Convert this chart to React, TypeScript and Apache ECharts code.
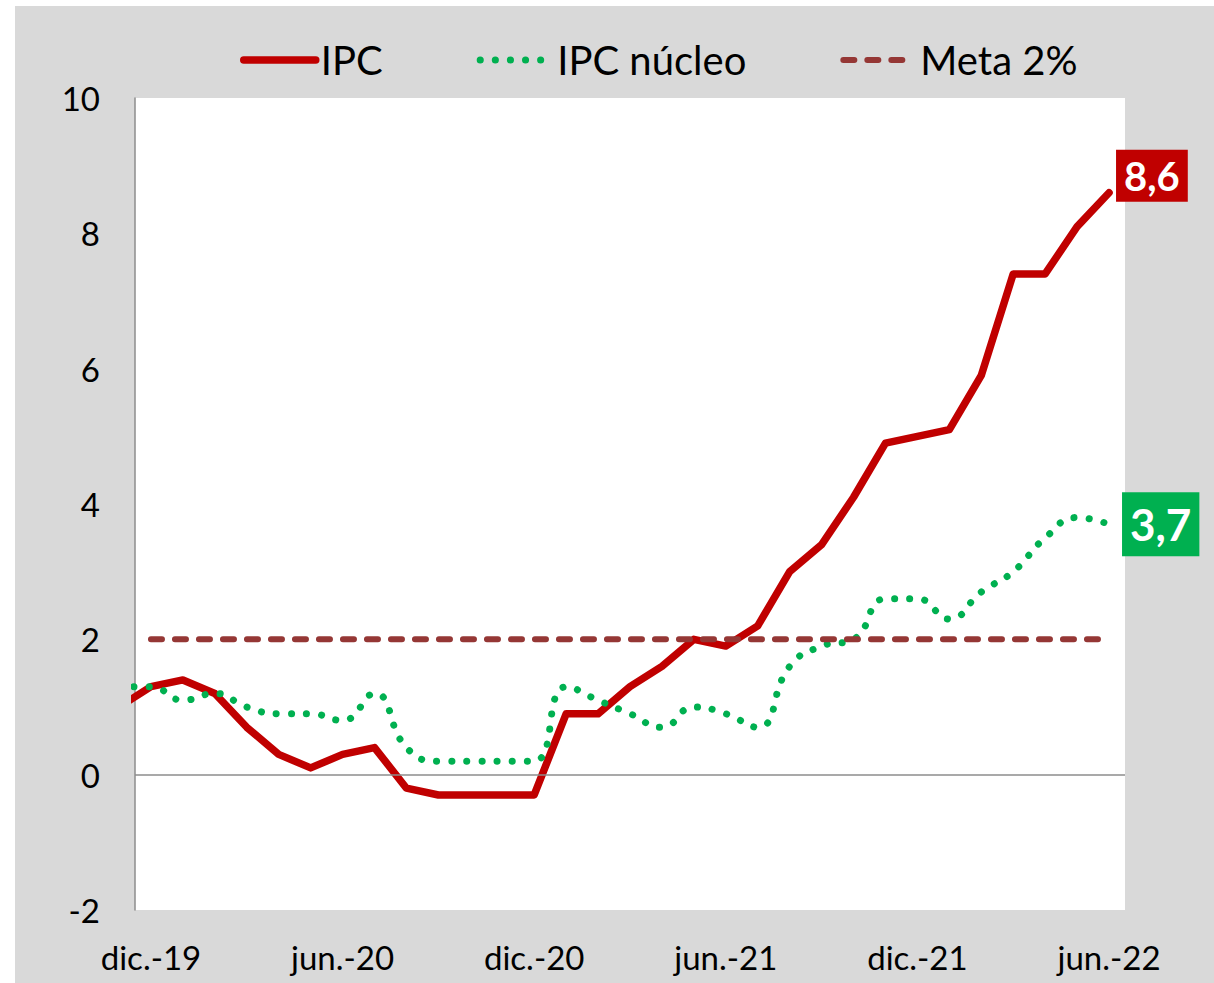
import React, { useEffect, useRef } from "react";
import * as echarts from "echarts";

const categories = [
  "dic.-19", "ene.-20", "feb.-20", "mar.-20", "abr.-20", "may.-20", "jun.-20",
  "jul.-20", "ago.-20", "sep.-20", "oct.-20", "nov.-20", "dic.-20",
  "ene.-21", "feb.-21", "mar.-21", "abr.-21", "may.-21", "jun.-21",
  "jul.-21", "ago.-21", "sep.-21", "oct.-21", "nov.-21", "dic.-21",
  "ene.-22", "feb.-22", "mar.-22", "abr.-22", "may.-22", "jun.-22",
];

// value for nov.-19 (drawn just before the first category, clipped by the plot)
const ipcPrev = 1.0;
const corePrev = 1.3;

const ipc = [
  1.3, 1.4, 1.2, 0.7, 0.3, 0.1, 0.3, 0.4, -0.2, -0.3, -0.3, -0.3, -0.3,
  0.9, 0.9, 1.3, 1.6, 2.0, 1.9, 2.2, 3.0, 3.4, 4.1, 4.9, 5.0,
  5.1, 5.9, 7.4, 7.4, 8.1, 8.6,
];

const core = [
  1.3, 1.1, 1.2, 1.0, 0.9, 0.9, 0.8, 1.2, 0.4, 0.2, 0.2, 0.2, 0.2,
  1.3, 1.1, 0.9, 0.7, 1.0, 0.9, 0.7, 1.6, 1.9, 2.0, 2.6, 2.6,
  2.3, 2.7, 3.0, 3.5, 3.8, 3.7,
];

const meta = [
  2, 2, 2, 2, 2, 2, 2, 2, 2, 2, 2, 2, 2,
  2, 2, 2, 2, 2, 2, 2, 2, 2, 2, 2, 2,
  2, 2, 2, 2, 2, 2,
];

const yTicks = { min: -2, max: 10, interval: 2 };

const FONT = "Lato, 'Noto Sans', sans-serif";
const RED = "#C00000";
const GREEN = "#00B050";
const META = "#953735";

const redLine = { color: RED, width: 7.5, cap: "round", join: "round" };
const greenLine = { color: GREEN, width: 7, type: [0.1, 15], cap: "round" };
const metaLine = { color: META, width: 6, type: [11, 13], cap: "round" };

function fmt(p: any) {
  const v = Array.isArray(p.value) ? p.value[1] : p.value;
  return String(v).replace(".", ",");
}

export default function App() {
  const ref = useRef<HTMLDivElement>(null);

  useEffect(() => {
    if (!ref.current) return;
    const chart = echarts.init(ref.current, undefined, { renderer: "svg" });

    const ipcData = [[-1, ipcPrev], ...ipc.map((v, i) => [i, v])];
    const coreData = [[-1, corePrev], ...core.map((v, i) => [i, v])];
    const metaData = meta.map((v, i) => [i, v]);

    chart.setOption({
      animation: false,
      backgroundColor: "#d9d9d9",
      textStyle: { fontFamily: FONT },
      legend: {
        left: 220,
        top: 29,
        itemWidth: 72,
        itemHeight: 20,
        itemGap: 94,
        itemStyle: { opacity: 0 },
        textStyle: { fontSize: 40, color: "#000", fontFamily: FONT },
        data: [
          { name: "IPC", lineStyle: redLine },
          { name: "IPC núcleo", lineStyle: greenLine },
          { name: "Meta 2%", lineStyle: metaLine },
        ],
      },
      grid: {
        left: 120,
        top: 92,
        right: 89,
        bottom: 73,
        show: true,
        backgroundColor: "#ffffff",
        borderWidth: 0,
      },
      xAxis: [
        {
          type: "category",
          data: categories,
          boundaryGap: true,
          position: "bottom",
          axisLine: { show: false },
          axisTick: { show: false },
          splitLine: { show: false },
          axisLabel: {
            interval: 5,
            fontSize: 33,
            color: "#000",
            fontFamily: FONT,
            margin: 30,
          },
        },
        {
          type: "value",
          min: -0.5,
          max: 30.5,
          axisLine: { show: false },
          axisTick: { show: false },
          axisLabel: { show: false },
          splitLine: { show: false },
        },
      ],
      yAxis: {
        type: "value",
        min: yTicks.min,
        max: yTicks.max,
        interval: yTicks.interval,
        axisLine: { show: true, onZero: false, lineStyle: { color: "#8c8c8c", width: 1.5 } },
        axisTick: { show: false },
        splitLine: { show: false },
        axisLabel: { fontSize: 33, color: "#000", fontFamily: FONT, margin: 35 },
      },
      series: [
        {
          name: "IPC",
          type: "line",
          xAxisIndex: 1,
          data: ipcData,
          symbol: "none",
          clip: true,
          color: RED,
          lineStyle: redLine,
          markLine: {
            silent: true,
            symbol: "none",
            label: { show: false },
            lineStyle: { color: "#8c8c8c", width: 1.5, type: "solid" },
            data: [{ yAxis: 0 }],
          },
          endLabel: {
            show: true,
            formatter: fmt,
            color: "#fff",
            fontWeight: "bold",
            fontSize: 40,
            fontFamily: FONT,
            backgroundColor: RED,
            padding: [6, 8, 6, 8],
            distance: 7,
            offset: [0, -17],
          },
        },
        {
          name: "IPC núcleo",
          type: "line",
          xAxisIndex: 1,
          data: coreData,
          symbol: "none",
          smooth: true,
          clip: true,
          color: GREEN,
          lineStyle: greenLine,
          endLabel: {
            show: true,
            formatter: fmt,
            color: "#fff",
            fontWeight: "bold",
            fontSize: 44,
            fontFamily: FONT,
            backgroundColor: GREEN,
            padding: [10, 8, 10, 8],
            distance: 13,
          },
        },
        {
          name: "Meta 2%",
          type: "line",
          xAxisIndex: 1,
          data: metaData,
          symbol: "none",
          clip: true,
          color: META,
          lineStyle: metaLine,
        },
      ],
    });

    return () => chart.dispose();
  }, []);

  return (
    <div
      ref={ref}
      style={{ position: "absolute", left: 15, top: 6, width: 1199, height: 977 }}
    />
  );
}
